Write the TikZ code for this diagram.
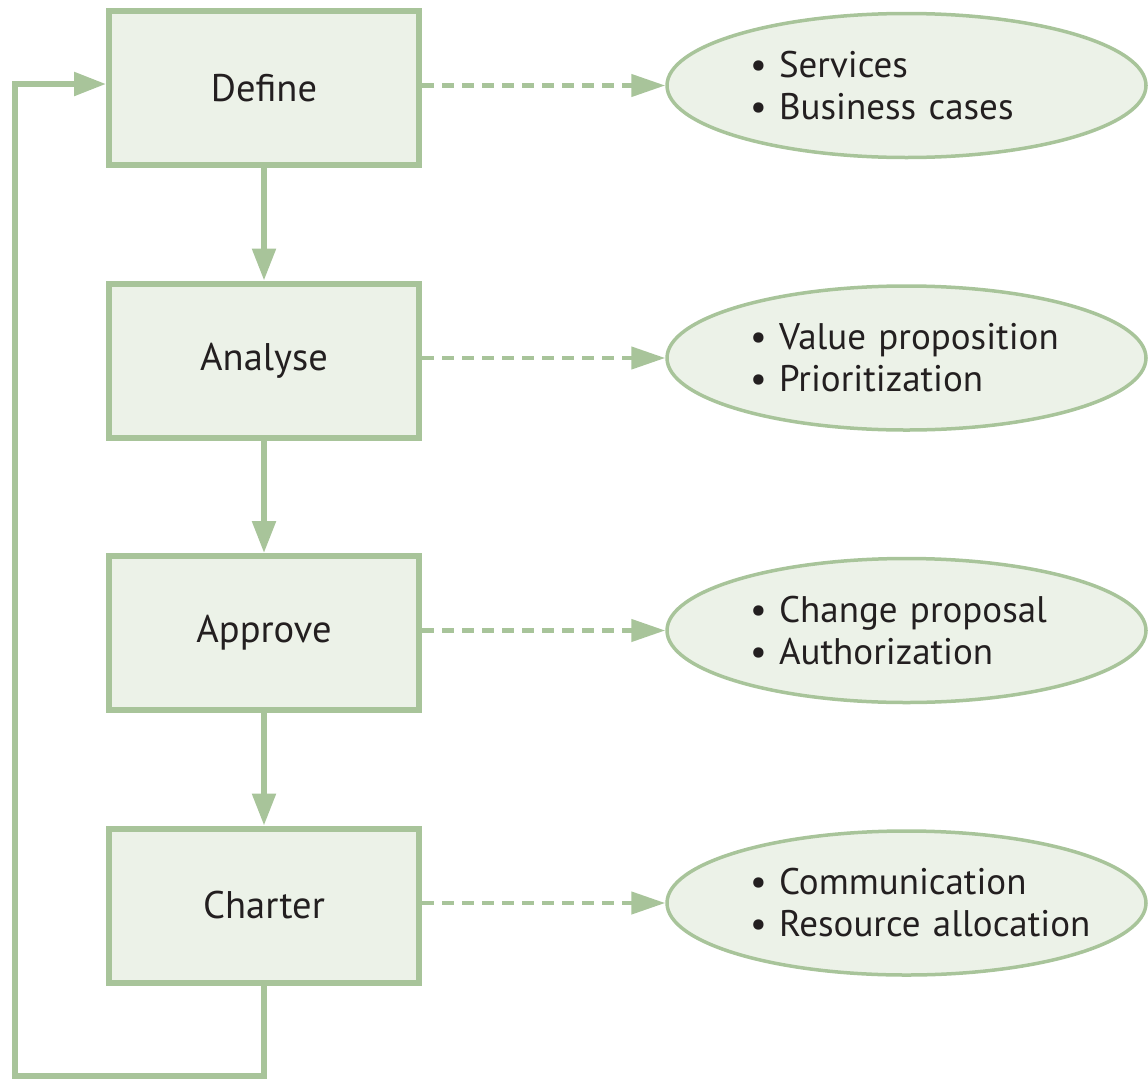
\documentclass[tikz,border=0pt]{standalone}
\usepackage{fontspec}
\setmainfont{PT Sans}
\usepackage{tikz}
\usetikzlibrary{arrows.meta}
\usetikzlibrary{shapes.geometric}
\definecolor{sgreen}{RGB}{168, 196, 154}
\definecolor{lgreen}{RGB}{236, 242, 232}
\definecolor{ink}{RGB}{35, 31, 32}
\tikzset{stepbox/.style = {draw=sgreen, fill=lgreen, line width=6pt,
                           minimum width=310pt, minimum height=154pt,
                           text=ink, font=\fontsize{38.5}{44}\selectfont},
         outbox/.style  = {ellipse, draw=sgreen, fill=lgreen, line width=3.5pt,
                           minimum width=479pt, minimum height=144pt, inner sep=0pt,
                           text width=313pt, align=left,
                           text=ink, font=\fontsize{37}{42}\selectfont},
         flow/.style    = {draw=sgreen, line width=5.5pt,
                           -{Triangle[length=32pt, width=23pt]}},
         feeds/.style   = {draw=sgreen, line width=4.5pt, dash pattern=on 12pt off 8pt,
                           -{Triangle[length=34pt, width=22pt]}}}

\begin{document}
\begin{tikzpicture}[x=1pt, y=1pt]
    \useasboundingbox (0, 0) rectangle (1148, -1079);

    \node [stepbox] (define)  at (264, -88)    {Define};
    \node [stepbox] (analyse) at (264, -360.5) {Analyse};
    \node [stepbox] (approve) at (264, -633)   {Approve};
    \node [stepbox] (charter) at (264, -905.5) {Charter};

    \node [outbox] (services) at (906.5, -85.5)  {\textbullet\ Services\\\textbullet\ Business cases};
    \node [outbox] (value)    at (906.5, -358)   {\textbullet\ Value proposition\\\textbullet\ Prioritization};
    \node [outbox] (change)   at (906.5, -630.5) {\textbullet\ Change proposal\\\textbullet\ Authorization};
    \node [outbox] (comms)    at (906.5, -903)   {\textbullet\ Communication\\\mbox{\textbullet\ Resource allocation}};

    \draw [flow] (define) -- (analyse);
    \draw [flow] (analyse) -- (approve);
    \draw [flow] (approve) -- (charter);

    \draw [feeds] (define.east |- services.west) -- (services.west);
    \draw [feeds] (analyse.east |- value.west) -- (value.west);
    \draw [feeds] (approve.east |- change.west) -- (change.west);
    \draw [feeds] (charter.east |- comms.west) -- (comms.west);

    % back round to the start
    \coordinate (corner) at (15, -1076);
    \draw [flow] (charter.south) |- (corner) |- ([yshift=4pt]define.west);
\end{tikzpicture}
\end{document}
